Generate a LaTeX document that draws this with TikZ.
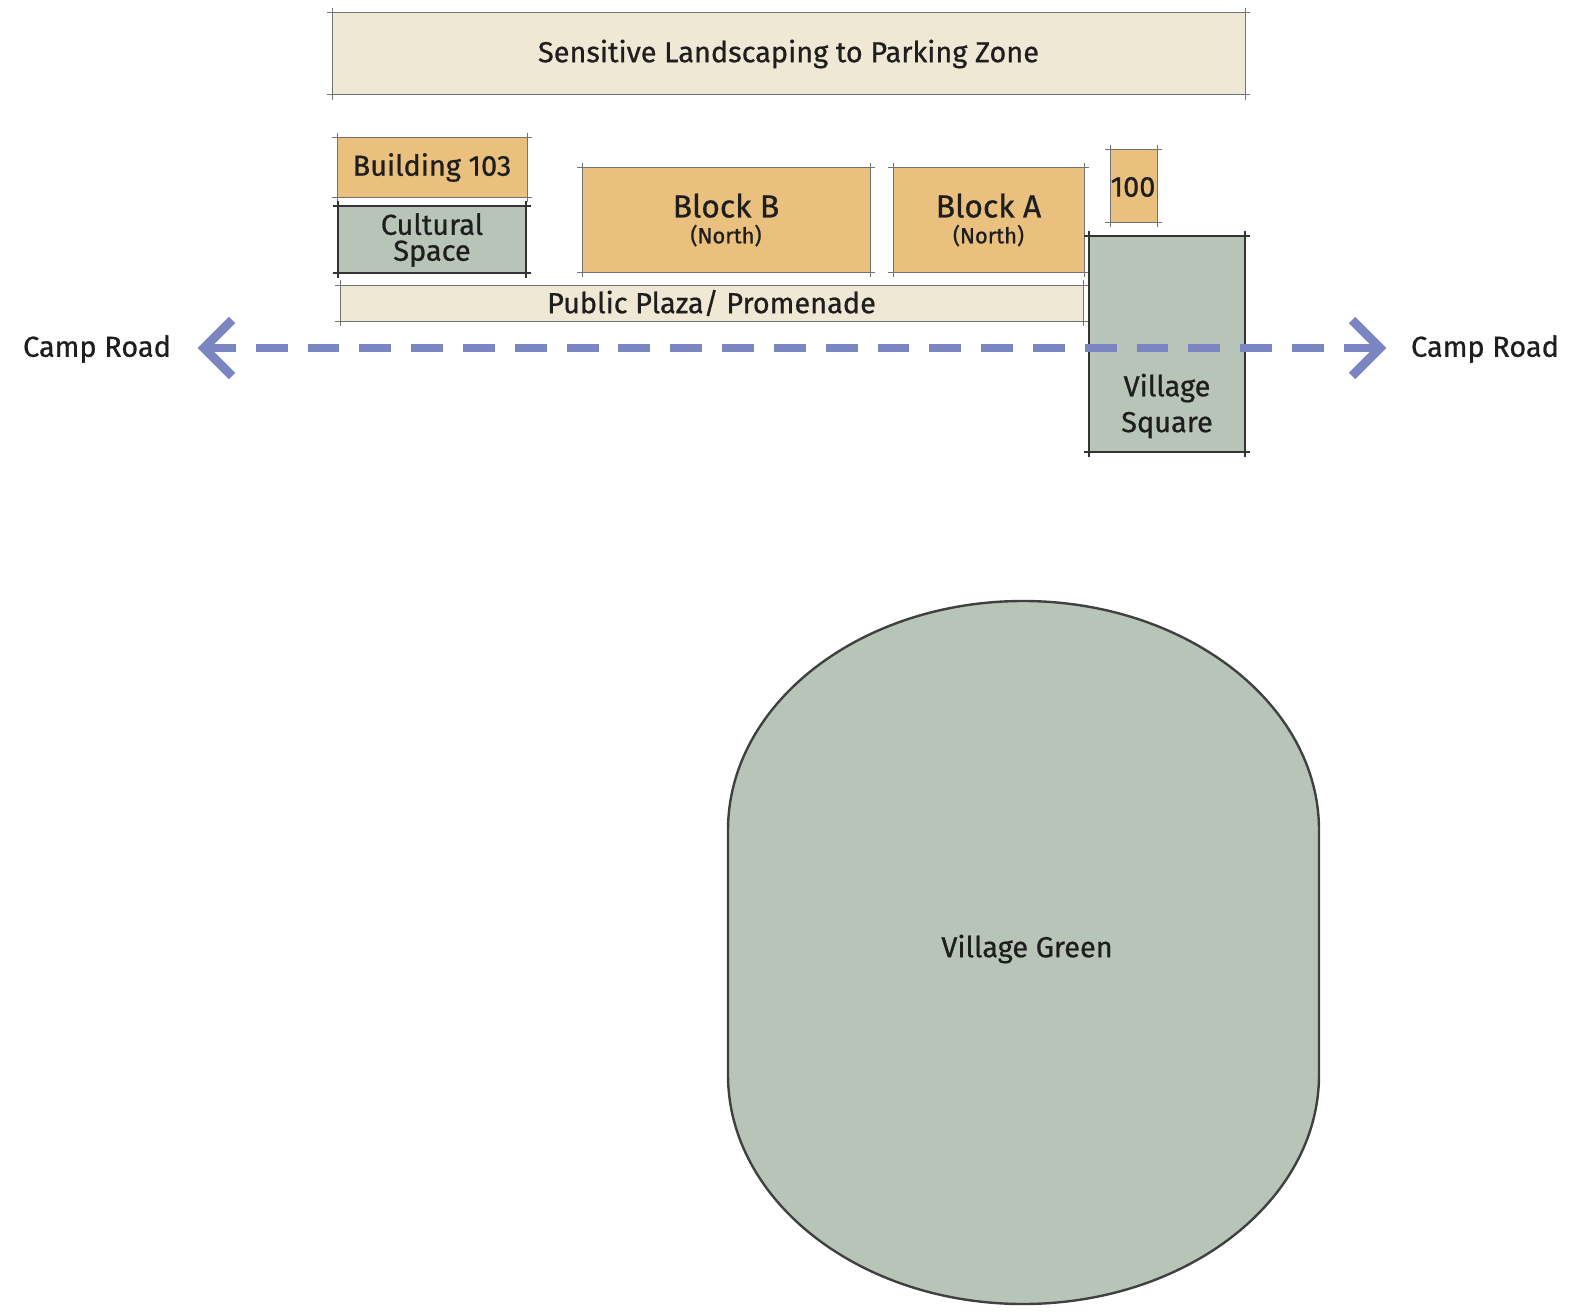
\documentclass[tikz,border=0pt]{standalone}
\usepackage{fontspec}
\setmainfont{Fira Sans}[FakeBold=0.7]
\usetikzlibrary{calc}
\definecolor{orangefill}{HTML}{EAC07F}
\definecolor{beigefill}{HTML}{EFE8D4}
\definecolor{greenfill}{HTML}{B8C4B7}
\definecolor{roadblue}{HTML}{7B85C2}
\definecolor{inkc}{HTML}{1E1E1E}
\newcommand\skbox[8]{%
  \node[#6, minimum width={(#4-#2)*0.5bp}, minimum height={(#5-#3)*0.5bp}] (#1) at ({(#2+#4)/2},{(#3+#5)/2}) {#8};
  \draw[#7] ([xshift=-2.5pt]#1.north west) -- ([xshift=2.5pt]#1.north east);
  \draw[#7] ([xshift=-2.5pt]#1.south west) -- ([xshift=2.5pt]#1.south east);
  \draw[#7] ([yshift=2.5pt]#1.north west) -- ([yshift=-2.5pt]#1.south west);
  \draw[#7] ([yshift=2.5pt]#1.north east) -- ([yshift=-2.5pt]#1.south east);
}
\tikzset{
  base/.style={inner sep=0pt, outer sep=0pt, align=center, text=inkc, font=\fontsize{14.5}{14}\selectfont},
  obox/.style={base, fill=orangefill},
  bbox/.style={base, fill=beigefill},
  gbox/.style={base, fill=greenfill},
  thinedge/.style={draw=black!55, line width=0.5pt},
  thickedge/.style={draw=black!80, line width=1.4pt},
  lbl/.style={inner sep=0pt, text=inkc, font=\fontsize{14.5}{14}\selectfont},
  road/.style={draw=roadblue, line width=4pt, dash pattern=on 16pt off 10pt},
  chev/.style={draw=roadblue, line width=4.5pt, line join=miter, line cap=butt},
}
\begin{document}
\begin{tikzpicture}[x=0.5bp,y=-0.5bp]
\useasboundingbox (0,0) rectangle (1576,1312);
% top band
\skbox{landscape}{332}{13}{1245}{95}{bbox}{thinedge}{Sensitive Landscaping to Parking Zone}
% buildings
\skbox{b103}{337}{138}{527}{197}{obox}{thinedge}{\raisebox{-1pt}{Building 103}}
\skbox{cultural}{338}{206}{526}{273}{gbox}{thickedge}{}
\node[lbl, align=center] (culttext) at (432,240) {Cultural\\[-1pt]Space};
\skbox{blockb}{582}{168}{870}{272}{obox}{thinedge}{{\fontsize{16}{16}\selectfont Block B}\\[-1pt]{\fontsize{11}{11}\selectfont (North)}}
\skbox{blocka}{893}{168}{1084}{272}{obox}{thinedge}{{\fontsize{16}{16}\selectfont Block A}\\[-1pt]{\fontsize{11}{11}\selectfont (North)}}
\skbox{b100}{1110}{150}{1157}{222}{obox}{thinedge}{}
\node[lbl] (t100) at (1133,187) {100};
\skbox{plaza}{340}{285}{1083}{321}{bbox}{thinedge}{Public Plaza/ Promenade}
\skbox{vsquare}{1089}{236}{1245}{452}{gbox}{thickedge}{}
% road
\coordinate (lefttip) at (204,348);
\coordinate (righttip) at (1380,348);
\draw[road] (lefttip) -- (righttip);
\draw[chev] ($(lefttip)+(28,-28)$) -- (lefttip) -- ($(lefttip)+(28,28)$);
\draw[chev] ($(righttip)+(-28,-28)$) -- (righttip) -- ($(righttip)+(-28,28)$);
\node[lbl] (campl) at (97,349) {Camp Road};
\node[lbl] (campr) at (1485,349) {Camp Road};
\node[lbl, align=center] (vsqtext) at (1167,406) {Village\\[4pt]Square};
% village green
\draw[fill=greenfill, draw=black!75, line width=1.2pt]
  (728,1075) -- (728,830) .. controls (728,704) and (860,601) .. (1023,601)
  .. controls (1186,601) and (1319,704) .. (1319,830)
  -- (1319,1075) .. controls (1319,1201) and (1186,1304) .. (1023,1304)
  .. controls (860,1304) and (728,1201) .. (728,1075) -- cycle;
\node[lbl] (vgreen) at (1027,949) {Village Green};
\end{tikzpicture}
\end{document}
